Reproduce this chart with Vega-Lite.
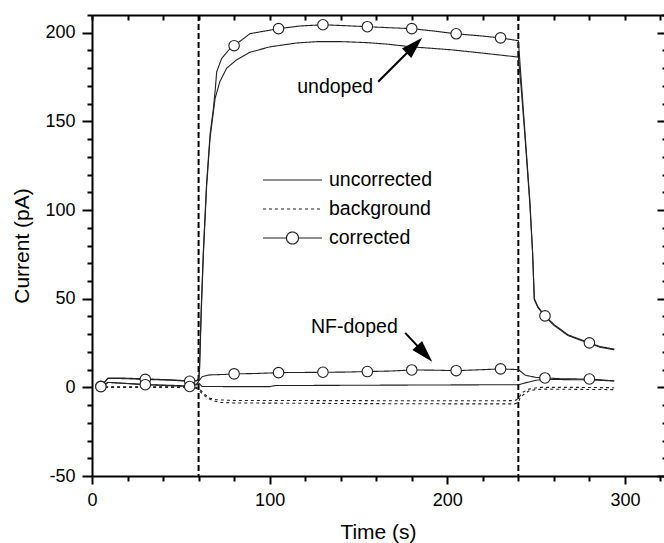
{
  "$schema": "https://vega.github.io/schema/vega-lite/v6.json",
  "width": 572,
  "height": 461,
  "autosize": {"type": "none"},
  "padding": {"left": 92, "top": 15, "right": 0, "bottom": 67},
  "background": "white",
  "config": {
    "view": {"stroke": null},
    "font": "Liberation Sans",
    "axis": {"domainColor": "#000", "tickColor": "#000", "labelColor": "#000", "titleColor": "#000", "grid": false, "labelFont": "Liberation Sans", "titleFont": "Liberation Sans", "titleFontWeight": "normal", "labelFlush": false, "labelOverlap": false}
  },
  "datasets": {
    "curves": [
      {"s":"A","type":"uncorrected","t":4,"current":0.5},{"s":"A","type":"uncorrected","t":5,"current":0.6},{"s":"A","type":"uncorrected","t":9,"current":5.3},{"s":"A","type":"uncorrected","t":15,"current":5.3},{"s":"A","type":"uncorrected","t":30,"current":4.8},{"s":"A","type":"uncorrected","t":45,"current":4.2},{"s":"A","type":"uncorrected","t":55,"current":3.6},{"s":"A","type":"uncorrected","t":59,"current":3.8},{"s":"A","type":"uncorrected","t":60,"current":4.8},{"s":"A","type":"uncorrected","t":60.5,"current":9},{"s":"A","type":"uncorrected","t":61.5,"current":42},{"s":"A","type":"uncorrected","t":62.7,"current":75},{"s":"A","type":"uncorrected","t":64.5,"current":113},{"s":"A","type":"uncorrected","t":66.5,"current":141},{"s":"A","type":"uncorrected","t":68.3,"current":155},{"s":"A","type":"uncorrected","t":69.3,"current":163},{"s":"A","type":"uncorrected","t":72,"current":172.5},{"s":"A","type":"uncorrected","t":75.8,"current":180},{"s":"A","type":"uncorrected","t":81.5,"current":184.8},{"s":"A","type":"uncorrected","t":89,"current":189},{"s":"A","type":"uncorrected","t":100,"current":192},{"s":"A","type":"uncorrected","t":115,"current":194.2},{"s":"A","type":"uncorrected","t":127,"current":195},{"s":"A","type":"uncorrected","t":140,"current":195},{"s":"A","type":"uncorrected","t":155,"current":194.4},{"s":"A","type":"uncorrected","t":167,"current":193.5},{"s":"A","type":"uncorrected","t":179,"current":192.1},{"s":"A","type":"uncorrected","t":190,"current":191.3},{"s":"A","type":"uncorrected","t":202,"current":190.4},{"s":"A","type":"uncorrected","t":220,"current":188.5},{"s":"A","type":"uncorrected","t":237,"current":186.6},{"s":"A","type":"uncorrected","t":240,"current":186.2},{"s":"A","type":"uncorrected","t":241.5,"current":170},{"s":"A","type":"uncorrected","t":244,"current":138},{"s":"A","type":"uncorrected","t":246.5,"current":103},{"s":"A","type":"uncorrected","t":248,"current":76},{"s":"A","type":"uncorrected","t":249,"current":49.5},{"s":"A","type":"uncorrected","t":251,"current":45},{"s":"A","type":"uncorrected","t":255,"current":40},{"s":"A","type":"uncorrected","t":260,"current":35},{"s":"A","type":"uncorrected","t":268,"current":29.2},{"s":"A","type":"uncorrected","t":275,"current":26.6},{"s":"A","type":"uncorrected","t":280,"current":24.8},{"s":"A","type":"uncorrected","t":286,"current":22.6},{"s":"A","type":"uncorrected","t":294,"current":21.2},

      {"s":"B","type":"background","t":4,"current":0},{"s":"B","type":"background","t":20,"current":0},{"s":"B","type":"background","t":40,"current":0},{"s":"B","type":"background","t":55,"current":0},{"s":"B","type":"background","t":58,"current":-0.3},{"s":"B","type":"background","t":60,"current":-1},{"s":"B","type":"background","t":61,"current":-2.5},{"s":"B","type":"background","t":63,"current":-4.5},{"s":"B","type":"background","t":65,"current":-6},{"s":"B","type":"background","t":68,"current":-7.5},{"s":"B","type":"background","t":72,"current":-8.5},{"s":"B","type":"background","t":80,"current":-8.8},{"s":"B","type":"background","t":120,"current":-9},{"s":"B","type":"background","t":160,"current":-9.2},{"s":"B","type":"background","t":200,"current":-9.3},{"s":"B","type":"background","t":238,"current":-9.3},{"s":"B","type":"background","t":240,"current":-8.5},{"s":"B","type":"background","t":241,"current":-6},{"s":"B","type":"background","t":243,"current":-4},{"s":"B","type":"background","t":246,"current":-2},{"s":"B","type":"background","t":250,"current":-1.2},{"s":"B","type":"background","t":255,"current":-1},{"s":"B","type":"background","t":294,"current":-1.3},

      {"s":"C","type":"corrected","t":4,"current":0.5},{"s":"C","type":"corrected","t":5,"current":0.6},{"s":"C","type":"corrected","t":9,"current":5},{"s":"C","type":"corrected","t":15,"current":5},{"s":"C","type":"corrected","t":30,"current":4.5},{"s":"C","type":"corrected","t":45,"current":4},{"s":"C","type":"corrected","t":55,"current":3.4},{"s":"C","type":"corrected","t":59,"current":3.8},{"s":"C","type":"corrected","t":60,"current":5},{"s":"C","type":"corrected","t":60.5,"current":10},{"s":"C","type":"corrected","t":61.5,"current":45},{"s":"C","type":"corrected","t":62.7,"current":77},{"s":"C","type":"corrected","t":64.5,"current":115},{"s":"C","type":"corrected","t":66.5,"current":143},{"s":"C","type":"corrected","t":68.3,"current":157},{"s":"C","type":"corrected","t":69.3,"current":167},{"s":"C","type":"corrected","t":70.2,"current":178},{"s":"C","type":"corrected","t":73,"current":185.5},{"s":"C","type":"corrected","t":77.6,"current":191},{"s":"C","type":"corrected","t":80,"current":192.7},{"s":"C","type":"corrected","t":89,"current":199.5},{"s":"C","type":"corrected","t":105,"current":202.3},{"s":"C","type":"corrected","t":117,"current":203.8},{"s":"C","type":"corrected","t":130,"current":204.5},{"s":"C","type":"corrected","t":142,"current":204},{"s":"C","type":"corrected","t":155,"current":203.4},{"s":"C","type":"corrected","t":168,"current":202.8},{"s":"C","type":"corrected","t":180,"current":202.3},{"s":"C","type":"corrected","t":192,"current":201},{"s":"C","type":"corrected","t":205,"current":199.4},{"s":"C","type":"corrected","t":218,"current":198.3},{"s":"C","type":"corrected","t":230,"current":197.1},{"s":"C","type":"corrected","t":240,"current":195.5},{"s":"C","type":"corrected","t":241.5,"current":175},{"s":"C","type":"corrected","t":244,"current":140},{"s":"C","type":"corrected","t":246.5,"current":105},{"s":"C","type":"corrected","t":248,"current":77},{"s":"C","type":"corrected","t":249,"current":50},{"s":"C","type":"corrected","t":251,"current":45.5},{"s":"C","type":"corrected","t":255,"current":40.3},{"s":"C","type":"corrected","t":260,"current":35.5},{"s":"C","type":"corrected","t":268,"current":29.6},{"s":"C","type":"corrected","t":275,"current":27},{"s":"C","type":"corrected","t":280,"current":25.1},{"s":"C","type":"corrected","t":286,"current":23},{"s":"C","type":"corrected","t":294,"current":21.6},

      {"s":"D","type":"uncorrected","t":4,"current":0.3},{"s":"D","type":"uncorrected","t":5,"current":0.4},{"s":"D","type":"uncorrected","t":9,"current":2.8},{"s":"D","type":"uncorrected","t":30,"current":1.6},{"s":"D","type":"uncorrected","t":55,"current":0.8},{"s":"D","type":"uncorrected","t":59,"current":1.5},{"s":"D","type":"uncorrected","t":60,"current":2.5},{"s":"D","type":"uncorrected","t":62,"current":0.5},{"s":"D","type":"uncorrected","t":80,"current":0.4},{"s":"D","type":"uncorrected","t":100,"current":0.4},{"s":"D","type":"uncorrected","t":103,"current":1},{"s":"D","type":"uncorrected","t":155,"current":1.2},{"s":"D","type":"uncorrected","t":240,"current":1.5},{"s":"D","type":"uncorrected","t":245,"current":2.8},{"s":"D","type":"uncorrected","t":250,"current":4},{"s":"D","type":"uncorrected","t":255,"current":4.5},{"s":"D","type":"uncorrected","t":280,"current":4.2},{"s":"D","type":"uncorrected","t":294,"current":3.6},

      {"s":"E","type":"background","t":4,"current":0.3},{"s":"E","type":"background","t":20,"current":0.3},{"s":"E","type":"background","t":55,"current":0.3},{"s":"E","type":"background","t":59,"current":0},{"s":"E","type":"background","t":61,"current":-1.5},{"s":"E","type":"background","t":63,"current":-3.5},{"s":"E","type":"background","t":66,"current":-6},{"s":"E","type":"background","t":70,"current":-7},{"s":"E","type":"background","t":80,"current":-7.4},{"s":"E","type":"background","t":150,"current":-7.5},{"s":"E","type":"background","t":200,"current":-7.6},{"s":"E","type":"background","t":238,"current":-7.5},{"s":"E","type":"background","t":240,"current":-6.5},{"s":"E","type":"background","t":242,"current":-3},{"s":"E","type":"background","t":246,"current":-1},{"s":"E","type":"background","t":252,"current":0},{"s":"E","type":"background","t":270,"current":0},{"s":"E","type":"background","t":294,"current":-0.2},

      {"s":"F","type":"corrected","t":4,"current":0.3},{"s":"F","type":"corrected","t":5,"current":0.4},{"s":"F","type":"corrected","t":9,"current":2.8},{"s":"F","type":"corrected","t":30,"current":1.5},{"s":"F","type":"corrected","t":55,"current":0.5},{"s":"F","type":"corrected","t":59,"current":2},{"s":"F","type":"corrected","t":60,"current":3.5},{"s":"F","type":"corrected","t":62,"current":6},{"s":"F","type":"corrected","t":66,"current":7},{"s":"F","type":"corrected","t":75,"current":7.3},{"s":"F","type":"corrected","t":80,"current":7.6},{"s":"F","type":"corrected","t":92,"current":7.8},{"s":"F","type":"corrected","t":105,"current":8.3},{"s":"F","type":"corrected","t":118,"current":8.4},{"s":"F","type":"corrected","t":130,"current":8.5},{"s":"F","type":"corrected","t":142,"current":8.6},{"s":"F","type":"corrected","t":155,"current":8.9},{"s":"F","type":"corrected","t":168,"current":9.2},{"s":"F","type":"corrected","t":180,"current":9.8},{"s":"F","type":"corrected","t":192,"current":9.7},{"s":"F","type":"corrected","t":205,"current":9.4},{"s":"F","type":"corrected","t":218,"current":9.9},{"s":"F","type":"corrected","t":230,"current":10.4},{"s":"F","type":"corrected","t":240,"current":10},{"s":"F","type":"corrected","t":244,"current":6.8},{"s":"F","type":"corrected","t":250,"current":5.6},{"s":"F","type":"corrected","t":255,"current":5.3},{"s":"F","type":"corrected","t":265,"current":4.8},{"s":"F","type":"corrected","t":280,"current":4.7},{"s":"F","type":"corrected","t":287,"current":4.2},{"s":"F","type":"corrected","t":294,"current":3.6}
    ],
    "markers": [
      {"s":"C","t":5,"current":0.6},{"s":"C","t":30,"current":4.5},{"s":"C","t":55,"current":3.4},{"s":"C","t":80,"current":192.7},{"s":"C","t":105,"current":202.3},{"s":"C","t":130,"current":204.5},{"s":"C","t":155,"current":203.4},{"s":"C","t":180,"current":202.3},{"s":"C","t":205,"current":199.4},{"s":"C","t":230,"current":197.1},{"s":"C","t":255,"current":40.3},{"s":"C","t":280,"current":25.1},
      {"s":"F","t":5,"current":0.4},{"s":"F","t":30,"current":1.5},{"s":"F","t":55,"current":0.5},{"s":"F","t":80,"current":7.6},{"s":"F","t":105,"current":8.3},{"s":"F","t":130,"current":8.5},{"s":"F","t":155,"current":8.9},{"s":"F","t":180,"current":9.8},{"s":"F","t":205,"current":9.4},{"s":"F","t":230,"current":10.4},{"s":"F","t":255,"current":5.3},{"s":"F","t":280,"current":4.7}
    ],
    "vlines": [{"t": 60}, {"t": 240}],
    "notes": [{"label": "undoped", "t": 136.9, "current": 166.1}, {"label": "NF-doped", "t": 147.7, "current": 30.5}],
    "arrows": [{"name": "undoped", "t": 161.1, "current": 172.4, "t2": 181.5, "current2": 192.8}, {"name": "NF-doped", "t": 176.3, "current": 30.7, "t2": 187.3, "current2": 19.0}]
  },
  "resolve": {"axis": {"x": "independent", "y": "independent"}},
  "layer": [
    {
      "data": {"name": "vlines"},
      "mark": {"type": "rule", "color": "#000", "strokeWidth": 2, "strokeDash": [6, 3]},
      "encoding": {
        "x": {"field": "t", "type": "quantitative", "scale": {"domain": [0, 322], "nice": false, "zero": false},
          "axis": {"orient": "top", "values": [0,20,40,60,80,100,120,140,160,180,200,220,240,260,280,300,320], "tickSize": -5, "tickWidth": 2, "domainWidth": 2, "labels": false, "title": null}}
      }
    },
    {
      "data": {"name": "curves"},
      "mark": {"type": "line", "color": "#222", "strokeWidth": 1.1},
      "encoding": {
        "x": {"field": "t", "type": "quantitative", "scale": {"domain": [0, 322], "nice": false, "zero": false},
          "axis": {"orient": "bottom", "values": [0, 100, 200, 300], "tickSize": 8, "tickWidth": 2, "domainWidth": 2, "labelFontSize": 18, "labelPadding": 7, "title": "Time (s)", "titleFontSize": 21, "titlePadding": 12}},
        "y": {"field": "current", "type": "quantitative", "scale": {"domain": [-50, 210], "nice": false, "zero": false},
          "axis": {"orient": "left", "values": [-50, 0, 50, 100, 150, 200], "tickSize": 10, "tickWidth": 2, "domainWidth": 2, "labelFontSize": 18, "labelPadding": 7, "labelExpr": "'' + datum.value", "title": "Current (pA)", "titleFontSize": 21, "titlePadding": 12}},
        "detail": {"field": "s", "type": "nominal"},
        "strokeDash": {"field": "type", "type": "nominal",
          "scale": {"domain": ["uncorrected", "background", "corrected"], "range": [[1, 0], [3, 3], [1, 0]]},
          "legend": {"orient": "none", "legendX": 189.5, "legendY": 154, "title": null, "padding": 0, "labelFontSize": 19.5, "labelFont": "Liberation Sans", "labelColor": "#000", "symbolType": "stroke", "symbolSize": 400, "symbolStrokeWidth": 1.2, "symbolStrokeColor": "#222", "labelOffset": 25.5, "rowPadding": 8,
            "encode": {"symbols": {"update": {
              "shape": {"signal": "datum.value === 'corrected' ? 'M-2.95,0L-0.6,0M0.6,0L2.95,0M0.6,0A0.6,0.6,0,1,1,-0.6,0A0.6,0.6,0,1,1,0.6,0Z' : 'M-2.95,0L2.95,0'"},
              "fill": {"value": "white"},
              "stroke": {"value": "#222"}
            }}}}
        }
      }
    },
    {
      "data": {"name": "markers"},
      "mark": {"type": "point", "shape": "circle", "filled": true, "fill": "white", "stroke": "#222", "strokeWidth": 1.1, "size": 110, "opacity": 1},
      "encoding": {
        "x": {"field": "t", "type": "quantitative", "scale": {"domain": [0, 322], "nice": false, "zero": false},
          "axis": {"orient": "bottom", "values": [20,40,60,80,120,140,160,180,220,240,260,280,320], "tickSize": 5, "tickWidth": 2, "domain": false, "labels": false, "title": null}},
        "y": {"field": "current", "type": "quantitative", "scale": {"domain": [-50, 210], "nice": false, "zero": false},
          "axis": {"orient": "left", "values": [-40,-30,-20,-10,10,20,30,40,60,70,80,90,110,120,130,140,160,170,180,190,210], "tickSize": 5, "tickWidth": 2, "domain": false, "labels": false, "title": null}}
      }
    },
    {
      "data": {"name": "notes"},
      "mark": {"type": "text", "fontSize": 19.5, "font": "Liberation Sans", "color": "#000", "align": "center", "baseline": "alphabetic"},
      "encoding": {
        "x": {"field": "t", "type": "quantitative", "scale": {"domain": [0, 322], "nice": false, "zero": false}, "axis": null},
        "y": {"field": "current", "type": "quantitative", "scale": {"domain": [-50, 210], "nice": false, "zero": false},
          "axis": {"orient": "right", "values": [-50, 0, 50, 100, 150, 200], "tickSize": -7, "tickWidth": 2, "domain": false, "labels": false, "title": null}},
        "text": {"field": "label", "type": "nominal"}
      }
    },
    {
      "data": {"name": "arrows"},
      "mark": {"type": "rule", "color": "#000", "strokeWidth": 2},
      "encoding": {
        "x": {"field": "t", "type": "quantitative", "scale": {"domain": [0, 322], "nice": false, "zero": false}, "axis": null},
        "y": {"field": "current", "type": "quantitative", "scale": {"domain": [-50, 210], "nice": false, "zero": false},
          "axis": {"orient": "right", "values": [-40,-30,-20,-10,10,20,30,40,60,70,80,90,110,120,130,140,160,170,180,190,210], "tickSize": -2, "tickWidth": 2, "domain": false, "labels": false, "title": null}},
        "x2": {"field": "t2"},
        "y2": {"field": "current2"}
      }
    },
    {
      "data": {"name": "arrows"},
      "transform": [{"filter": "datum.name === 'undoped'"}],
      "mark": {"type": "point", "shape": "M0,-1L0.6,1L-0.6,1Z", "filled": true, "color": "#000", "size": 484, "angle": 45, "opacity": 1},
      "encoding": {
        "x": {"field": "t2", "type": "quantitative", "scale": {"domain": [0, 322], "nice": false, "zero": false}, "axis": null},
        "y": {"field": "current2", "type": "quantitative", "scale": {"domain": [-50, 210], "nice": false, "zero": false}, "axis": null}
      }
    },
    {
      "data": {"name": "arrows"},
      "transform": [{"filter": "datum.name === 'NF-doped'"}],
      "mark": {"type": "point", "shape": "M0,-1L0.6,1L-0.6,1Z", "filled": true, "color": "#000", "size": 484, "angle": 137, "opacity": 1},
      "encoding": {
        "x": {"field": "t2", "type": "quantitative", "scale": {"domain": [0, 322], "nice": false, "zero": false}, "axis": null},
        "y": {"field": "current2", "type": "quantitative", "scale": {"domain": [-50, 210], "nice": false, "zero": false}, "axis": null}
      }
    }
  ]
}
